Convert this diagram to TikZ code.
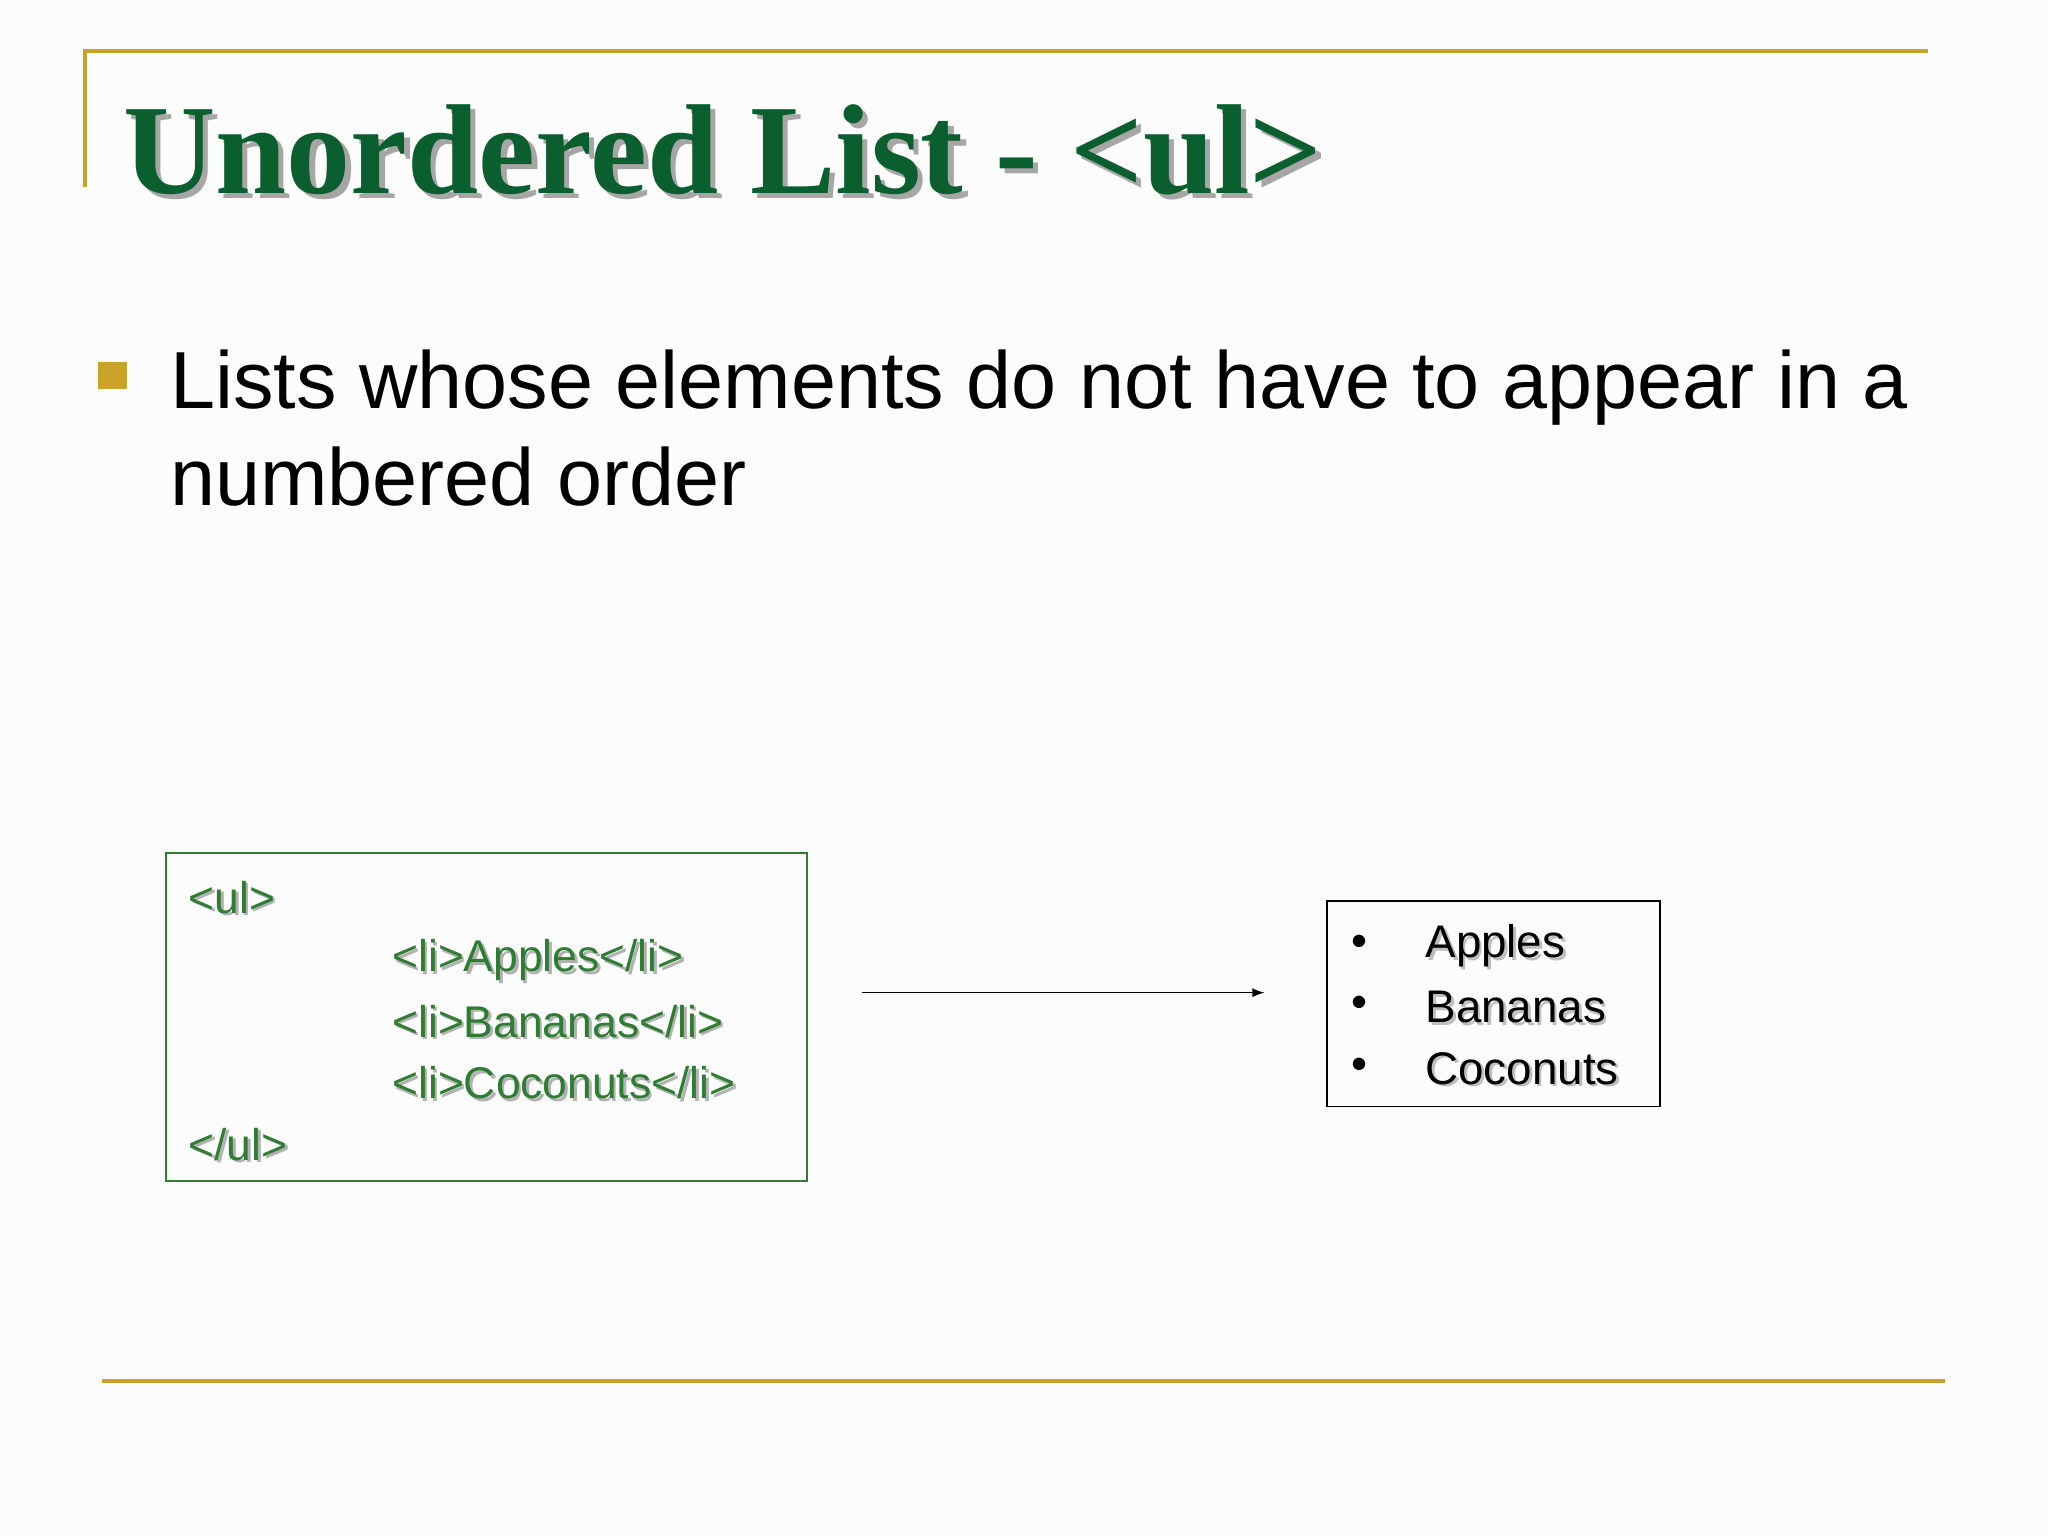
\documentclass[tikz,border=0pt]{standalone}
\usepackage{fontspec}
\setmainfont{Liberation Sans}
\newfontfamily\titlefont{Liberation Serif}
\definecolor{gold}{HTML}{C9A227}
\definecolor{dgreen}{HTML}{0B5E2E}
\definecolor{cgreen}{HTML}{2E7D32}
\definecolor{bgray}{HTML}{FCFCFC}
\begin{document}
\begin{tikzpicture}[x=0.5pt,y=-0.5pt,
  goldline/.style={draw=gold,line width=1.5pt},
  code/.style={anchor=west,inner sep=0pt,font=\fontsize{17}{20}\selectfont,text=cgreen},
  codesh/.style={anchor=west,inner sep=0pt,font=\fontsize{17}{20}\selectfont,text=gray!60},
  outtext/.style={anchor=west,inner sep=0pt,font=\fontsize{17.5}{20}\selectfont},
  outsh/.style={anchor=west,inner sep=0pt,font=\fontsize{17.5}{20}\selectfont,text=gray!50}]
\fill[bgray] (0,0) rectangle (1568,1176);
\useasboundingbox (0,0) rectangle (1568,1176);
\draw[goldline] (65,143) -- (65,39) -- (1476,39);
\draw[goldline] (78,1057) -- (1489,1057);
% title
\node[anchor=base west,inner sep=0pt,font=\titlefont\bfseries\fontsize{49}{55}\selectfont,text=gray!70] at (98,152) {Unordered List - <ul>};
\node (title) [anchor=base west,inner sep=0pt,font=\titlefont\bfseries\fontsize{49}{55}\selectfont,text=dgreen] at (94,148) {Unordered List - <ul>};
% bullet
\fill[gold] (75,277) rectangle (97,298);
\node (l1) [anchor=base west,inner sep=0pt,font=\fontsize{31}{37}\selectfont] at (130,313) {Lists whose elements do not have to appear in a};
\node (l2) [anchor=base west,inner sep=0pt,font=\fontsize{31}{37}\selectfont] at (130,387) {numbered order};
% code box
\draw[cgreen,line width=0.6pt] (127,653) rectangle (618,904);
\foreach \x/\y/\t in {144/687/{<ul>},300/735/{<li>Apples</li>},300/782/{<li>Bananas</li>},300/829/{<li>Coconuts</li>},144/876/{</ul>}}{
  \node[codesh] at (\x+2,\y+2) {\t};
  \node[code] at (\x,\y) {\t};
}
\coordinate (as) at (660,760);
\coordinate (ae) at (968,760);
\draw[-latex,line width=0.6pt] (as) -- (ae);
% output box
\draw[line width=0.6pt] (1016,690) rectangle (1271,847);
\foreach \y/\t in {724/Apples,771/Bananas,818/Coconuts}{
  \node[outtext] at (1034,\y) {•};
  \node[outsh] at (1093,\y+2) {\t};
  \node[outtext] at (1091,\y) {\t};
}
\end{tikzpicture}
\end{document}
